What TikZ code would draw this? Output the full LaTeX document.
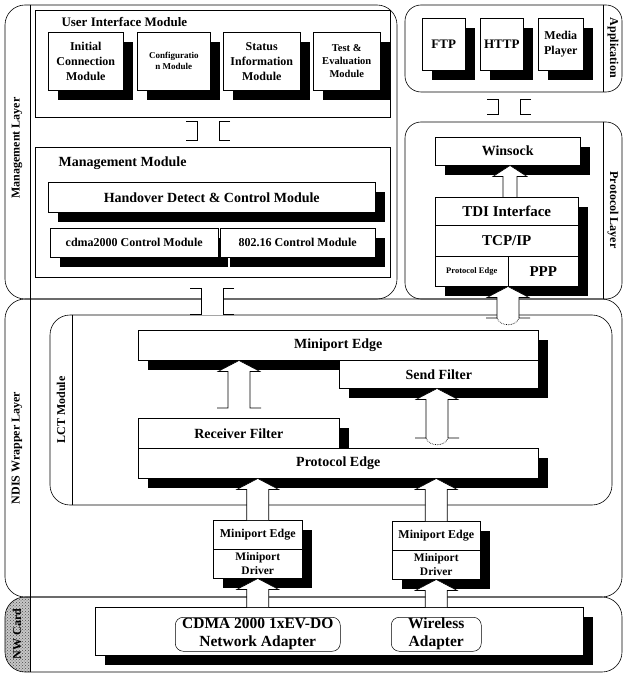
\documentclass[tikz,border=0pt]{standalone}
\usepackage{fontspec}
\setmainfont{Liberation Serif}
\usetikzlibrary{fit,shadows,calc,patterns}

\tikzset{
  layer/.style={draw, rounded corners=20pt, inner sep=0pt, line width=0.6pt},
  cont/.style={draw, fill=white, inner sep=0pt, line width=0.5pt, anchor=north west},
  box/.style={draw, fill=white, inner sep=0pt, align=center, line width=0.5pt, anchor=north west},
  shbox/.style={box, drop shadow={shadow xshift=10pt, shadow yshift=-10pt, fill=black, opacity=1}},
  adbox/.style={draw, rounded corners=8pt, inner sep=0pt, align=center, line width=0.5pt, anchor=north west},
  lbl/.style={font=\bfseries\fontsize{12}{14}\selectfont},
  fXL/.style={font=\bfseries\fontsize{15.5}{18}\selectfont},
  fL/.style={font=\bfseries\fontsize{14}{16}\selectfont},
  fM/.style={font=\bfseries\fontsize{12}{15}\selectfont},
  fD/.style={font=\bfseries\fontsize{11.5}{13.5}\selectfont},
  fS/.style={font=\bfseries\fontsize{10.5}{13}\selectfont},
  fXS/.style={font=\bfseries\fontsize{8.5}{10}\selectfont}
}

% hollow block arrows and channels
\newcommand{\bigarrow}[3][11]{%
  \path[draw, fill=white, line width=0.6pt] ($(#2)+(-#1,0)$) -- ($(#3)+(-#1,11)$) -- ($(#3)+(-#1-10,11)$) -- (#3)
    -- ($(#3)+(#1+10,11)$) -- ($(#3)+(#1,11)$) -- ($(#2)+(#1,0)$);}
\newcommand{\flangearrow}[2]{%
  \path[draw, fill=white, line width=0.6pt] ($(#1)+(-22,0)$) -- ($(#1)+(-11,0)$) -- ($(#2)+(-11,11)$) -- ($(#2)+(-21,11)$) -- (#2)
    -- ($(#2)+(21,11)$) -- ($(#2)+(11,11)$) -- ($(#1)+(11,0)$) -- ($(#1)+(22,0)$);}
\newcommand{\dotcap}[1]{%
  \draw[densely dotted, line width=0.7pt] ($(#1)+(-11,0)$) .. controls ($(#1)+(-8,9)$) and ($(#1)+(8,9)$) .. ($(#1)+(11,0)$);}
\newcommand{\chanpipe}[2]{%
  \fill[white] ($(#1)+(-11,0)$) rectangle ($(#2)+(11,0)$);
  \draw[line width=0.6pt] ($(#1)+(-22,0)$) -- ($(#1)+(-11,0)$) -- ($(#2)+(-11,0)$) -- ($(#2)+(-22,0)$);
  \draw[line width=0.6pt] ($(#1)+(22,0)$) -- ($(#1)+(11,0)$) -- ($(#2)+(11,0)$) -- ($(#2)+(22,0)$);}

\begin{document}
\begin{tikzpicture}[x=1pt,y=-1pt]
\useasboundingbox (0,0) rectangle (625,676);

% layer strip of the card
\begin{scope}
\clip[rounded corners=20pt] (5,597) rectangle (622,672);
\fill[black!22] (5,597) rectangle (30,672);
\fill[pattern=crosshatch dots, pattern color=black!70] (5,597) rectangle (30,672);
\end{scope}

% layers
\node[layer, fit={(5,5) (397,299)}] (mgmt) {};
\node[layer, rounded corners=16pt, fit={(405,5) (622,92)}] (app) {};
\node[layer, rounded corners=16pt, fit={(405,122) (622,299)}] (prot) {};
\node[layer, fit={(5,299) (622,597)}] (ndis) {};
\node[layer, fit={(50,315) (612,505)}] (lct) {};
\node[layer, fit={(5,597) (622,672)}] (nwc) {};

\coordinate (xl) at (30,0);
\coordinate (xr) at (603,0);
\coordinate (xm) at (72,0);
\draw (mgmt.north -| xl) -- (mgmt.south -| xl);
\draw (ndis.north -| xl) -- (ndis.south -| xl);
\draw (nwc.north -| xl) -- (nwc.south -| xl);
\draw (app.north -| xr) -- (app.south -| xr);
\draw (prot.north -| xr) -- (prot.south -| xr);
\draw (lct.north -| xm) -- (lct.south -| xm);

\node[lbl, rotate=90] (mgmtlbl) at (17,148) {Management Layer};
\node[lbl, rotate=-90] (applbl) at (613,48) {Application};
\node[lbl, rotate=-90] (protlbl) at (613,210) {Protocol Layer};
\node[lbl, rotate=90] (ndislbl) at (17,448) {NDIS Wrapper Layer};
\node[lbl, rotate=90] (lctlbl) at (61,410) {LCT Module};
\node[lbl, rotate=90] (nwclbl) at (17,634) {NW Card};

% management layer
\node[cont, minimum width=355, minimum height=107] (ui) at (35,10) {};
\node[font=\bfseries\fontsize{13}{15}\selectfont, anchor=west] (uititle) at (58,22) {User Interface Module};
\node[shbox, fM, minimum width=75, minimum height=58] (icm) at (48,32) {Initial\\Connection\\Module};
\node[shbox, font=\bfseries\fontsize{9}{11}\selectfont, minimum width=73, minimum height=58] (cfg) at (137,32) {Configuratio\\n Module};
\node[shbox, fM, minimum width=77, minimum height=58] (sim) at (223,32) {Status\\Information\\Module};
\node[shbox, fS, minimum width=67, minimum height=58] (tem) at (313,32) {Test \&\\Evaluation\\Module};

\node[cont, minimum width=355, minimum height=130] (mm) at (35,147) {};
\node[fL, anchor=west] (mmtitle) at (55,163) {Management Module};
\node[shbox, fL, minimum width=327, minimum height=30] (hdc) at (48,182) {Handover Detect \& Control Module};
\node[shbox, fM, minimum width=168, minimum height=29] (cdma) at (50,228) {cdma2000 Control Module};
\node[shbox, fM, minimum width=155, minimum height=29] (c802) at (220,228) {802.16 Control Module};

% application and protocol layer
\node[shbox, font=\bfseries\fontsize{13}{15}\selectfont, minimum width=43, minimum height=52] (ftp) at (422,18) {FTP};
\node[shbox, font=\bfseries\fontsize{13}{15}\selectfont, minimum width=43, minimum height=52] (http) at (480,18) {HTTP};
\node[shbox, fM, minimum width=45, minimum height=52] (media) at (538,18) {Media\\Player};

\node[shbox, fL, minimum width=145, minimum height=28] (wins) at (435,137) {Winsock};
\node[shbox, font=\bfseries\fontsize{15}{17}\selectfont, minimum width=143, minimum height=28] (tdi) at (435,197) {TDI Interface};
\node[shbox, font=\bfseries\fontsize{15}{17}\selectfont, minimum width=143, minimum height=31] (tcp) at (435,225) {TCP/IP};
\node[shbox, fXS, minimum width=73, minimum height=30] (ped) at (435,256) {Protocol Edge};
\node[shbox, font=\bfseries\fontsize{15}{17}\selectfont, minimum width=70, minimum height=30] (ppp) at (508,256) {PPP};

% LCT module
\node[shbox, fL, minimum width=400, minimum height=30] (me) at (138,330) {Miniport Edge};
\node[shbox, fL, minimum width=199, minimum height=28] (sf) at (339,360) {Send Filter};
\node[shbox, fL, minimum width=201, minimum height=30] (rf) at (138,418) {Receiver Filter};
\node[shbox, fL, minimum width=400, minimum height=30] (pe) at (138,448) {Protocol Edge};

% drivers
\node[shbox, fM, minimum width=89, minimum height=29] (mpAe) at (213,520) {Miniport Edge};
\node[shbox, fD, minimum width=89, minimum height=29] (mpAd) at (213,549) {Miniport\\Driver};
\node[shbox, fM, minimum width=88, minimum height=29] (mpBe) at (392,521) {Miniport Edge};
\node[shbox, fD, minimum width=88, minimum height=29] (mpBd) at (392,550) {Miniport\\Driver};

% network card
\node[cont, drop shadow={shadow xshift=10pt, shadow yshift=-10pt, fill=black, opacity=1}, minimum width=488, minimum height=48] (nwi) at (95,607) {};
\node[adbox, fXL, minimum width=165, minimum height=34] (adA) at (175,617) {CDMA 2000 1xEV-DO\\Network Adapter};
\node[adbox, fXL, minimum width=90, minimum height=34] (adB) at (391,617) {Wireless\\Adapter};

% channels
\coordinate (xp1) at (208,0);
\coordinate (xp2) at (212,0);
\coordinate (xp3) at (509,0);
\coordinate (p1t) at ($(ui.south -| xp1)+(0,4)$);
\coordinate (p1b) at ($(mm.north -| xp1)+(0,-7)$);
\coordinate (p2t) at ($(mm.south -| xp2)+(0,11)$);
\coordinate (p2b) at (lct.north -| xp2);
\coordinate (p3t) at ($(app.south -| xp3)+(0,7)$);
\coordinate (p3b) at ($(prot.north -| xp3)+(0,-7)$);
\chanpipe{p1t}{p1b}
\chanpipe{p2t}{p2b}
\chanpipe{p3t}{p3b}

% arrows
\coordinate (xw) at (510,0);
\coordinate (xa) at (239,0);
\coordinate (xb) at (437,0);
\coordinate (xc) at (508,0);
\coordinate (a1b) at (tdi.north -| xw);
\coordinate (a1t) at (wins.south -| xw);
\bigarrow[7]{a1b}{a1t}
\coordinate (a2b) at ($(rf.north -| xa)+(0,-10)$);
\coordinate (a2t) at (me.south -| xa);
\flangearrow{a2b}{a2t}
\coordinate (a3b) at ($(pe.north -| xb)+(0,-10)$);
\coordinate (a3t) at (sf.south -| xb);
\flangearrow{a3b}{a3t}
\dotcap{a3b}
\coordinate (a4b) at ($(me.north -| xc)+(0,-12)$);
\coordinate (a4t) at (ped.south -| xc);
\flangearrow{a4b}{a4t}
\dotcap{a4b}
\bigarrow{mpAe.north}{pe.south -| mpAe.north}
\bigarrow{mpBe.north}{pe.south -| mpBe.north}
\coordinate (a7b) at ($(adA.north)+(0,-10)$);
\bigarrow{a7b}{mpAd.south}
\coordinate (a8b) at ($(adB.north)+(0,-10)$);
\bigarrow{a8b}{mpBd.south}
\end{tikzpicture}
\end{document}
